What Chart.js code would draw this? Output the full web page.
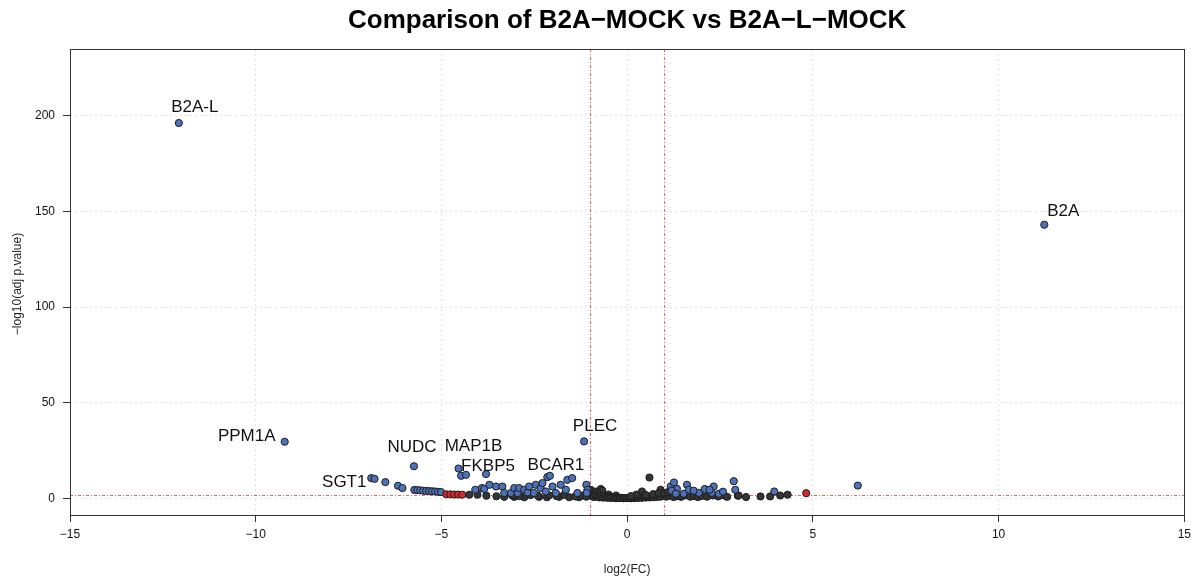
<!DOCTYPE html>
<html>
<head>
<meta charset="utf-8">
<title>Volcano plot</title>
<script src="https://cdn.jsdelivr.net/npm/chart.js@4/dist/chart.umd.min.js"></script>
<style>
  body { margin: 0; background: #fff; }
  canvas { display: block; }
</style>
</head>
<body>
<canvas id="volcano" width="1196" height="577"></canvas>
<script>
const titleText = "Comparison of B2A\u2212MOCK vs B2A\u2212L\u2212MOCK";
const xLabel = "log2(FC)";
const yLabel = "\u2212log10(adj p.value)";

const xTicks = [-15, -10, -5, 0, 5, 10, 15];
const yTicks = [0, 50, 100, 150, 200];

// cutoffs drawn as red dot-dash lines
const fcCut = [-1, 1];
const pCut = 2;

// significant proteins (blue)
const sigX = [-12.07, 11.23, -9.22, -1.16, -5.74, -4.54, -4.47, -4.34, -3.80, -6.89, -6.80, -6.51, -6.17, -6.05,
  -5.73, -5.65, -5.57, -5.49, -5.41, -5.33, -5.25, -5.17, -5.09, -5.01,
  -4.09, -3.91, -3.85, -3.71, -3.53, -3.36, -3.31, -3.13, -3.04,
  -2.95, -2.91, -2.77, -2.68, -2.64, -2.51, -2.46, -2.33, -2.28, -2.19, -2.15, -2.08, -2.01, -1.92,
  -1.79, -1.65, -1.61, -1.48, -1.34, -1.10, -1.07, -1.09,
  1.17, 1.26, 1.34, 1.61, 1.20, 1.31, 1.52, 1.66, 1.93, 2.09, 2.28, 2.33, 2.22, 2.47, 2.58, 2.87, 2.91, 3.96, 6.21, 1.79];
const sigY = [196.3, 143.1, 29.6, 29.8, 16.8, 15.6, 11.8, 12.3, 12.7, 10.6, 10.2, 8.5, 6.6, 5.4,
  4.4, 4.3, 4.2, 4.0, 3.9, 3.8, 3.7, 3.6, 3.4, 3.3,
  4.5, 5.4, 4.9, 7.1, 6.2, 6.2, 2.8, 2.8, 5.4,
  2.8, 5.4, 4.5, 3.1, 6.2, 2.8, 7.1, 5.4, 8.0, 3.6, 11.1, 11.8, 6.2, 2.8,
  7.1, 4.5, 9.7, 10.6, 2.8, 7.1, 4.5, 2.8,
  6.2, 8.3, 5.0, 7.1, 4.0, 2.4, 2.4, 4.5, 2.9, 4.9, 2.9, 6.2, 4.5, 2.4, 3.5, 9.0, 4.5, 3.6, 6.7, 4.0];

// not significant (dark grey)
const nsX = [-4.25, -4.03, -3.79, -3.52, -3.31, -3.04, -2.77, -2.37, -2.16, -1.83, -1.56, -1.30,
  -1.20, -1.40, -1.70, -1.90, -2.10, -2.40, -2.60, -2.90, -3.10, -1.05, -1.10,
  -0.98, -0.85, -0.71, -0.67, -0.80, -0.50, -0.30,
  -0.95, -0.90, -0.85, -0.80, -0.75, -0.70, -0.65, -0.60, -0.55, -0.50, -0.45, -0.40, -0.35, -0.30, -0.25, -0.20, -0.15, -0.10, -0.05,
  0.00, 0.05, 0.10, 0.15, 0.20, 0.25, 0.30, 0.35, 0.40, 0.45, 0.50, 0.55, 0.60, 0.65, 0.70, 0.75, 0.80, 0.85, 0.90, 0.95,
  0.40, 0.90, 0.60, 0.25, 0.70, 0.10, 0.50, 0.85,
  1.05, 1.15, 1.25, 1.35, 1.45, 1.55, 1.70, 1.80, 1.90, 2.00, 2.15, 2.30, 2.45, 2.60, 1.00, 1.10,
  2.69, 2.98, 3.00, 3.20, 3.59, 3.85, 4.12, 4.32];
const nsY = [1.9, 1.9, 1.4, 1.1, 0.8, 0.8, 0.6, 0.8, 0.6, 0.8, 0.6, 0.6,
  1.5, 1.0, 1.8, 1.2, 1.6, 1.3, 1.7, 1.2, 1.6, 2.0, 0.9,
  4.5, 3.6, 4.9, 4.1, 2.8, 2.0, 1.5,
  1.2, 0.7, 1.6, 0.9, 0.5, 1.3, 0.4, 0.8, 0.3, 0.6, 0.2, 0.5, 0.3, 0.1, 0.4, 0.15, 0.3, 0.05, 0.2,
  0.1, 0.25, 0.05, 0.3, 0.15, 0.45, 0.2, 0.6, 0.3, 0.8, 0.4, 0.9, 0.5, 1.1, 0.6, 1.3, 0.7, 1.5, 0.9, 1.9,
  3.6, 4.5, 10.9, 2.0, 2.2, 1.2, 1.8, 2.8,
  0.9, 1.4, 0.7, 1.2, 0.8, 1.5, 0.9, 1.3, 0.7, 1.2, 0.9, 1.5, 1.0, 1.6, 2.6, 3.3,
  0.8, 1.4, 1.5, 0.7, 1.0, 1.0, 1.5, 1.9];

// large fold change, borderline p (red)
const fcX = [-4.87, -4.76, -4.66, -4.55, -4.44, 4.82];
const fcY = [2.1, 2.1, 2.0, 2.0, 1.9, 2.7];

// labelled genes and the point each one belongs to
const geneNames = ["B2A-L", "B2A", "PPM1A", "NUDC", "MAP1B", "FKBP5", "BCAR1", "PLEC", "SGT1"];
const geneX = [-12.07, 11.23, -9.22, -5.74, -4.54, -3.80, -2.08, -1.16, -6.89];
const geneY = [196.3, 143.1, 29.6, 16.8, 15.6, 12.7, 11.8, 29.8, 10.6];
// text offsets from the point, in pixels
const geneOffsets = [[16, -16], [19, -13], [-38, -5], [-2, -19], [15, -22], [2, -8], [6, -10], [11, -15], [-27, 4]];

const FONT = "'Liberation Sans', Arial, Helvetica, sans-serif";

function toPoints(xs, ys) {
  return xs.map((x, i) => ({ x, y: ys[i] }));
}

const overlay = {
  id: "overlay",
  beforeDatasetsDraw(chart) {
    const { ctx, chartArea: a, scales: { x, y } } = chart;
    ctx.save();
    ctx.strokeStyle = "rgba(226, 70, 70, 0.85)";
    ctx.lineWidth = 1;
    ctx.setLineDash([3, 2, 1, 2]);
    fcCut.forEach(v => {
      const px = Math.round(x.getPixelForValue(v)) + 0.5;
      ctx.beginPath();
      ctx.moveTo(px, a.top);
      ctx.lineTo(px, a.bottom);
      ctx.stroke();
    });
    const py = Math.round(y.getPixelForValue(pCut)) + 0.5;
    ctx.beginPath();
    ctx.moveTo(a.left, py);
    ctx.lineTo(a.right, py);
    ctx.stroke();
    ctx.restore();
  },
  afterDraw(chart) {
    const { ctx, chartArea: a, scales: { x, y } } = chart;
    ctx.save();

    // plot box
    ctx.strokeStyle = "#333";
    ctx.lineWidth = 1;
    ctx.strokeRect(Math.round(a.left) + 0.5, Math.round(a.top) + 0.5,
      Math.round(a.right - a.left), Math.round(a.bottom - a.top));

    // gene labels
    ctx.fillStyle = "#111";
    ctx.font = "17px " + FONT;
    ctx.textAlign = "center";
    ctx.textBaseline = "middle";
    geneNames.forEach((name, i) => {
      const px = x.getPixelForValue(geneX[i]) + geneOffsets[i][0];
      const py = y.getPixelForValue(geneY[i]) + geneOffsets[i][1];
      ctx.fillText(name, px, py);
    });

    // title
    const cx = (a.left + a.right) / 2;
    ctx.fillStyle = "#000";
    ctx.font = "bold 26px " + FONT;
    ctx.fillText(titleText, cx, 21);

    // axis titles
    ctx.font = "12px " + FONT;
    ctx.fillStyle = "#222";
    ctx.fillText(xLabel, cx, 570);
    ctx.translate(18, (a.top + a.bottom) / 2 + 2);
    ctx.rotate(-Math.PI / 2);
    ctx.fillText(yLabel, 0, 0);
    ctx.restore();
  }
};

const dotBorder = "#1c1c1c";

new Chart(document.getElementById("volcano"), {
  type: "scatter",
  data: {
    datasets: [
      {
        label: "fold change only",
        data: toPoints(fcX, fcY),
        backgroundColor: "#d42a2f",
        borderColor: dotBorder,
        borderWidth: 1,
        pointRadius: 3.6,
        order: 0
      },
      {
        label: "significant",
        data: toPoints(sigX, sigY),
        backgroundColor: "#4d72b9",
        borderColor: dotBorder,
        borderWidth: 1,
        pointRadius: 3.6,
        order: 1
      },
      {
        label: "not significant",
        data: toPoints(nsX, nsY),
        backgroundColor: "#353535",
        borderColor: dotBorder,
        borderWidth: 1,
        pointRadius: 3.6,
        order: 2
      }
    ]
  },
  options: {
    responsive: false,
    animation: false,
    layout: { padding: { top: 49, right: 10, left: 0, bottom: 0 } },
    plugins: {
      legend: { display: false },
      tooltip: { enabled: false }
    },
    scales: {
      x: {
        type: "linear",
        min: -15,
        max: 15,
        afterBuildTicks: s => { s.ticks = xTicks.map(v => ({ value: v })); },
        afterFit: s => { s.height = 62; },
        border: { display: false, dash: [2, 3] },
        grid: {
          color: "#e2e2e2",
          tickColor: "#333",
          tickLength: 7,
          tickBorderDash: []
        },
        ticks: {
          padding: 5,
          color: "#111",
          font: { family: FONT, size: 12 },
          callback: v => String(v).replace("-", "\u2212")
        }
      },
      y: {
        type: "linear",
        min: -8.7,
        max: 235,
        afterBuildTicks: s => { s.ticks = yTicks.map(v => ({ value: v })); },
        afterFit: s => { s.width = 70; },
        border: { display: false, dash: [2, 3] },
        grid: {
          color: "#e2e2e2",
          tickColor: "#333",
          tickLength: 7,
          tickBorderDash: []
        },
        ticks: {
          padding: 8,
          color: "#111",
          font: { family: FONT, size: 12 }
        }
      }
    }
  },
  plugins: [overlay]
});
</script>
</body>
</html>
